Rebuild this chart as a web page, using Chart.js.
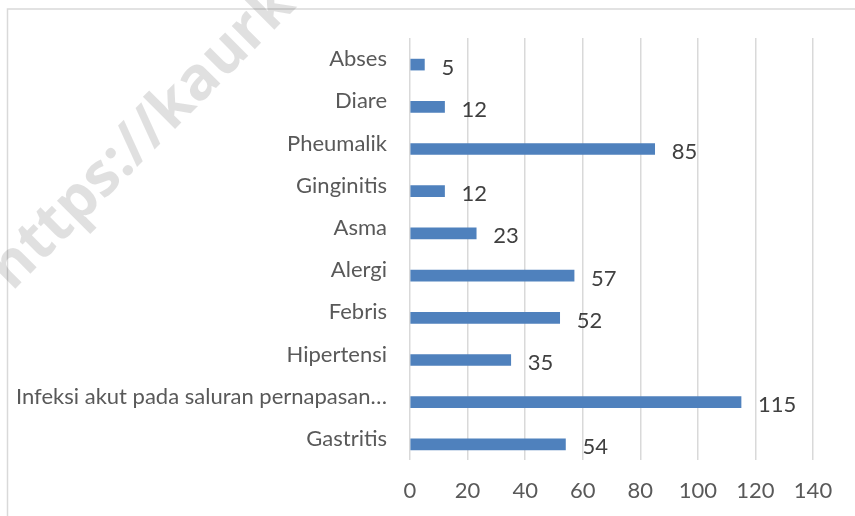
<!DOCTYPE html>
<html>
<head>
<meta charset="utf-8">
<script src="https://cdn.jsdelivr.net/npm/chart.js@4.4.1/dist/chart.umd.min.js"></script>
<style>
  html, body { margin: 0; padding: 0; background: #fff; }
  #wrap { width: 855px; height: 516px; }
</style>
</head>
<body>
<div id="wrap"><canvas id="grafik" width="855" height="516"></canvas></div>
<script>
// data penyakit
const kategori = ['Abses', 'Diare', 'Pheumalik', 'Ginginitis', 'Asma', 'Alergi', 'Febris', 'Hipertensi', 'Infeksi akut pada saluran pernapasan…', 'Gastritis'];
const jumlah = [5, 12, 85, 12, 23, 57, 52, 35, 115, 54];
const xMin = 0, xMax = 140, xStep = 20;

const FONT = 'Lato';
const biru = '#4F81BD';

// label angka di ujung batang
const labelNilai = {
  id: 'labelNilai',
  afterDatasetsDraw(chart) {
    const c = chart.ctx;
    const meta = chart.getDatasetMeta(1);
    c.save();
    c.font = '22px ' + FONT;
    c.fillStyle = '#404040';
    c.textAlign = 'left';
    c.textBaseline = 'middle';
    meta.data.forEach((bar, i) => {
      c.fillText(String(jumlah[i]), bar.x + 17, bar.y + 3);
    });
    c.restore();
  }
};

// bingkai + watermark
const bingkai = {
  id: 'bingkai',
  beforeDraw(chart) {
    const c = chart.ctx;
    c.save();
    c.strokeStyle = '#D9D9D9';
    c.lineWidth = 1.5;
    c.strokeRect(7.5, 9, 1000, 700);
    c.restore();
  },
  afterDraw(chart) {
    const c = chart.ctx;
    c.save();
    c.translate(12, 292);
    c.rotate(-45 * Math.PI / 180);
    c.font = 'bold 60px "Open Sans"';
    c.fillStyle = 'rgba(0,0,0,0.12)';
    c.textBaseline = 'alphabetic';
    c.fillText('https://kaurk', 0, 0);
    c.restore();
  }
};

new Chart(document.getElementById('grafik'), {
  type: 'bar',
  data: {
    labels: kategori,
    datasets: [
      { label: '', data: kategori.map(() => null), backgroundColor: 'transparent' },
      { label: 'Jumlah', data: jumlah, backgroundColor: biru, borderWidth: 0 }
    ]
  },
  options: {
    indexAxis: 'y',
    responsive: false,
    animation: false,
    barThickness: 11,
    layout: { padding: { top: 38, right: 42, bottom: 10, left: 0 } },
    plugins: {
      legend: { display: false },
      tooltip: { enabled: false }
    },
    scales: {
      x: {
        min: xMin,
        max: xMax,
        ticks: { stepSize: xStep, color: '#595959', font: { family: FONT, size: 22 }, padding: 18 },
        grid: { color: '#D9D9D9', lineWidth: 1.5, drawTicks: false },
        border: { display: false },
        afterFit(s) { s.height = 46; }
      },
      y: {
        grid: { display: false },
        border: { display: false },
        ticks: { color: '#595959', font: { family: FONT, size: 22 }, padding: 15, autoSkip: false },
        afterFit(s) { s.width = 410; }
      }
    }
  },
  plugins: [labelNilai, bingkai]
});
</script>
</body>
</html>
